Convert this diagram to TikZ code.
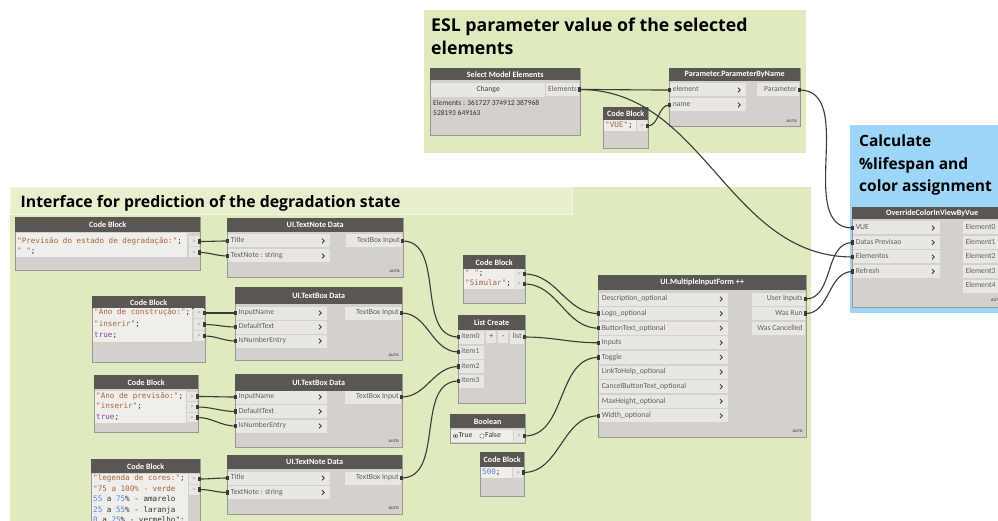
\documentclass[tikz,border=0pt]{standalone}
\usepackage{fontspec}
\setmainfont{Open Sans}
\newfontfamily\codefont{DejaVu Sans Mono}
\newfontfamily\uifont{Carlito}
\usetikzlibrary{calc}
\definecolor{grpgreen}{RGB}{223,234,190}
\definecolor{grpblue}{RGB}{158,214,250}
\definecolor{headgray}{RGB}{90,86,84}
\definecolor{bodygray}{RGB}{212,208,204}
\definecolor{rowgray}{RGB}{233,231,228}
\definecolor{coderow}{RGB}{240,238,235}
\definecolor{wiregray}{RGB}{58,58,56}
\definecolor{strbrown}{RGB}{168,98,62}
\definecolor{kwpurple}{RGB}{125,70,160}
\definecolor{numblue}{RGB}{70,140,215}
\definecolor{porttext}{RGB}{95,95,95}
\tikzset{
  nbody/.style={fill=bodygray, draw=black!40, line width=0.7pt, inner sep=0pt, anchor=north west},
  nhead/.style={fill=headgray, draw=none, inner sep=0pt, anchor=north west, text=white, font=\uifont\bfseries\fontsize{8.1}{9}\selectfont},
  prow/.style={fill=rowgray, draw=none, inner sep=0pt, anchor=north west},
  plabel/.style={inner sep=0pt, text=porttext, font=\uifont\fontsize{7.7}{8}\selectfont, text height=5.3pt, text depth=1.6pt},
  code/.style={inner sep=0pt, anchor=west, text=black!80, font=\codefont\fontsize{7.6}{8}\selectfont, text height=5.3pt, text depth=1.5pt},
  chev/.style={draw=black!75, line width=0.9pt},
  autolbl/.style={inner sep=0pt, anchor=east, text=black!65, font=\bfseries\fontsize{3.6}{4}\selectfont},
  gtitle/.style={inner sep=0pt, anchor=base west, text=black, font=\bfseries},
  infotext/.style={inner sep=0pt, anchor=base west, text=black!80, font=\uifont\fontsize{7.5}{8}\selectfont},
  wire/.style={draw=wiregray, line width=1.1pt, out=0, in=180},
}
\newcommand\dnode[7]{%
  \node[nbody, minimum width=#4pt, minimum height=#5pt] (#1) at (#2,#3) {};
  \node[nhead, minimum width=#4pt, minimum height=#6pt] (#1h) at (#2,#3) {#7};
}
\newcommand\inport[5]{%
  \node[prow, minimum width=#4pt, minimum height=13pt, anchor=west] (#1) at (#2,#3) {};
  \node[plabel, anchor=west] at ([xshift=3pt]#1.west) {#5};
  \draw[chev] ([xshift=-8pt,yshift=2.3pt]#1.east) -- ++(2.3,2.3) -- ++(-2.3,2.3);
}
\newcommand\inportnc[5]{%
  \node[prow, minimum width=#4pt, minimum height=13pt, anchor=west] (#1) at (#2,#3) {};
  \node[plabel, anchor=west] at ([xshift=2.5pt]#1.west) {#5};
}
\newcommand\outport[5]{%
  \node[prow, minimum width=#4pt, minimum height=13pt, anchor=east] (#1) at (#2,#3) {};
  \node[plabel, anchor=east] at ([xshift=-2.5pt]#1.east) {#5};
}
\newcommand\outportL[5]{%
  \node[prow, minimum width=#4pt, minimum height=13pt, anchor=west] (#1) at (#2,#3) {};
  \node[plabel, anchor=west] at ([xshift=2.5pt]#1.west) {#5};
}
\newcommand\cport[4]{%
  \node[prow, minimum width=10pt, minimum height=#4pt, anchor=east] (#1) at (#2,#3) {};
  \node[plabel, anchor=center, text=black!50, font=\fontsize{5.5}{6}\selectfont] at (#1.center) {>};
}
\newcommand\wire[2]{%
  \draw[wire] (#1.east) to (#2.west);
  \fill[wiregray] ($(#1.east)+(-1.2,-2.2)$) rectangle ++(2.4,4.4);
  \fill[wiregray] ($(#2.west)+(-1.2,-2.2)$) rectangle ++(2.4,4.4);
}
\newcommand\sq[1]{\textcolor{strbrown}{#1}}
\newcommand\nb[1]{\textcolor{numblue}{#1}}
\begin{document}
\begin{tikzpicture}[x=1pt,y=-1pt]
\useasboundingbox (0,0) rectangle (998,521);
\fill[white] (0,0) rectangle (998,521);
% ---------- groups
\fill[grpgreen] (424,10) rectangle (806,153);
\fill[grpblue] (850,125) rectangle (1002,313);
\fill[grpgreen] (10,187) rectangle (811,525);
\draw[white!55!grpgreen, fill=white!25!grpgreen, line width=0.6pt] (10,187) rectangle (572,214);
% ---------- group titles
\node[gtitle, font=\bfseries\fontsize{17.7}{22}\selectfont] (t1a) at (431,31.7) {ESL parameter value of the selected};
\node[gtitle, font=\bfseries\fontsize{17.7}{22}\selectfont] (t1b) at (431,55) {elements};
\node[gtitle, font=\bfseries\fontsize{15.5}{20}\selectfont] (t2a) at (859,147) {Calculate};
\node[gtitle, font=\bfseries\fontsize{15.5}{20}\selectfont] (t2b) at (859,169.5) {\%lifespan and};
\node[gtitle, font=\bfseries\fontsize{15.5}{20}\selectfont] (t2c) at (859,192) {color assignment};
\node[gtitle, font=\bfseries\fontsize{15.8}{18}\selectfont] (t3) at (20.5,207.5) {Interface for prediction of the degradation state};
% ---------- Select Model Elements
\dnode{sme}{430}{68}{150}{67}{12}{Select Model Elements}
\node[prow, minimum width=114pt, minimum height=14pt] (smechg) at (431,82.5) {};
\node[plabel, anchor=center, text=black!75] at (smechg.center) {Change};
\outport{smeout}{579.6}{89.5}{33}{Elements}
\node[infotext] (smei1) at (433,106) {Elements : 361727 374912 387968};
\node[infotext] (smei2) at (433,116) {528193 649163};
% ---------- Parameter.ParameterByName
\dnode{pbn}{669}{68}{131}{58}{13}{Parameter.ParameterByName}
\inport{pbnel}{669.6}{90}{76}{element}
\inport{pbnnm}{669.6}{105}{76}{name}
\outport{pbnout}{799.4}{90}{42}{Parameter}
\node[autolbl] at (797,121) {AUTO};
% ---------- Code Block VUE
\dnode{cbv}{603}{107}{45}{41}{13}{Code Block}
\fill[coderow] (603.6,120.5) rectangle (636,131.5);
\node[code] at (605,126) {\sq{"VUE"};};
\cport{cbvp}{647.4}{126}{11}
% ---------- OverrideColorInViewByVue
\dnode{ocv}{852}{207}{160}{100}{12}{OverrideColorInViewByVue}
\inport{ocv1}{852.6}{228}{87}{VUE}
\inport{ocv2}{852.6}{242.5}{87}{Datas Previsao}
\inport{ocv3}{852.6}{257}{87}{Elementos}
\inport{ocv4}{852.6}{271.5}{87}{Refresh}
\outportL{ocvo0}{963}{228}{45}{Element0}
\outportL{ocvo1}{963}{242.5}{45}{Element1}
\outportL{ocvo2}{963}{257}{45}{Element2}
\outportL{ocvo3}{963}{271.5}{45}{Element3}
\outportL{ocvo4}{963}{286}{45}{Element4}
\node[autolbl, anchor=west] at (991,300) {AUTO};
% ---------- Code Block 1
\dnode{cb1}{15}{217}{185}{53}{15}{Code Block}
\fill[coderow] (15.6,233) rectangle (187,257.5);
\node[code] at (17,241.5) {\sq{"Previsão do estado de degradação:"};};
\node[code] at (17,252) {\sq{" "};};
\cport{cb1a}{199.4}{241.5}{10}
\cport{cb1b}{199.4}{252.5}{10}
% ---------- UI.TextNote Data 1
\dnode{tn1}{227}{218}{176}{59}{14}{UI.TextNote Data}
\inport{tn1a}{227.6}{241}{102}{Title}
\inport{tn1b}{227.6}{256}{102}{TextNote : string}
\outport{tn1o}{402.4}{241}{56}{TextBox Input}
\node[autolbl] at (400,271) {AUTO};
% ---------- Code Block 2
\dnode{cb2}{92}{296}{113}{66}{13}{Code Block}
\fill[coderow] (92.6,308) rectangle (192,342);
\node[code] at (94,313) {\sq{"Ano de construção:"};};
\node[code] at (94,324.5) {\sq{"inserir"};};
\node[code] at (94,336) {\textcolor{kwpurple}{true};};
\cport{cb2a}{204.4}{313}{10.5}
\cport{cb2b}{204.4}{324.5}{10.5}
\cport{cb2c}{204.4}{336}{10.5}
% ---------- UI.TextBox Data 2
\dnode{tb2}{235}{287}{167}{73}{17}{UI.TextBox Data}
\inport{tb2a}{235.6}{313}{91}{InputName}
\inport{tb2b}{235.6}{327}{91}{DefaultText}
\inport{tb2c}{235.6}{341}{91}{IsNumberEntry}
\outport{tb2o}{401.4}{313}{56}{TextBox Input}
\node[autolbl] at (399,355) {AUTO};
% ---------- Code Block 3
\dnode{cb3}{94}{375}{104}{57}{14}{Code Block}
\fill[coderow] (94.6,391) rectangle (186,423);
\node[code] at (96,396.5) {\sq{"Ano de previsão:"};};
\node[code] at (96,407) {\sq{"inserir"};};
\node[code] at (96,417.5) {\textcolor{kwpurple}{true};};
\cport{cb3a}{197.4}{396.5}{9.8}
\cport{cb3b}{197.4}{407}{9.8}
\cport{cb3c}{197.4}{417.5}{9.8}
% ---------- UI.TextBox Data 3
\dnode{tb3}{235}{374}{167}{73}{17}{UI.TextBox Data}
\inport{tb3a}{235.6}{397}{91}{InputName}
\inport{tb3b}{235.6}{411.5}{91}{DefaultText}
\inport{tb3c}{235.6}{426}{91}{IsNumberEntry}
\outport{tb3o}{401.4}{397}{56}{TextBox Input}
\node[autolbl] at (399,441) {AUTO};
% ---------- Code Block 4
\dnode{cb4}{91}{459}{109}{70}{14}{Code Block}
\fill[coderow] (91.6,474) rectangle (188,525);
\node[code] at (93,479) {\sq{"legenda de cores:"};};
\node[code] at (93,489.5) {\sq{"75 a 100\% - verde}};
\node[code] at (93,500) {\nb{55} a \nb{75}\% - amarelo};
\node[code] at (93,510.5) {\nb{25} a \nb{55}\% - laranja};
\node[code] at (93,521) {\nb{0} a \nb{25}\% - vermelho";};
\cport{cb4a}{199.4}{479}{10}
\cport{cb4b}{199.4}{489.5}{10}
% ---------- UI.TextNote Data 4
\dnode{tn4}{227}{455}{175}{59}{14}{UI.TextNote Data}
\inport{tn4a}{227.6}{478}{102}{Title}
\inport{tn4b}{227.6}{492.5}{102}{TextNote : string}
\outport{tn4o}{401.4}{478}{56}{TextBox Input}
\node[autolbl] at (399,508) {AUTO};
% ---------- Code Block " " / "Simular"
\dnode{cbs}{463}{255}{62}{48}{14}{Code Block}
\fill[coderow] (463.6,269.5) rectangle (514,289);
\node[code] at (465,274) {\sq{" "};};
\node[code] at (465,284) {\sq{"Simular"};};
\cport{cbsa}{524.4}{274}{9.5}
\cport{cbsb}{524.4}{284}{9.5}
% ---------- List Create
\dnode{lc}{458}{315}{67}{88}{15}{List Create}
\inportnc{lc0}{458.6}{337}{25}{item0}
\inportnc{lc1}{458.6}{352}{25}{item1}
\inportnc{lc2}{458.6}{366.5}{25}{item2}
\inportnc{lc3}{458.6}{381}{25}{item3}
\node[prow, minimum width=10pt, minimum height=12pt, anchor=west] (lcplus) at (486,337) {};
\node[plabel, anchor=center, text=black!70] at (lcplus.center) {+};
\node[prow, minimum width=10pt, minimum height=12pt, anchor=west] (lcminus) at (498,337) {};
\node[plabel, anchor=center, text=black!70] at (lcminus.center) {-};
\outport{lco}{524.4}{337}{14}{list}
% ---------- Boolean
\dnode{bool}{450}{414}{75}{29}{14}{Boolean}
\fill[coderow] (450.6,429.5) rectangle (513,442.4);
\draw[black!60, fill=white, line width=0.5pt] (455.5,436) circle (2.2pt);
\fill[black!80] (455.5,436) circle (1.1pt);
\node[plabel, anchor=west, text=black!80] at (458.5,436) {True};
\draw[black!50, fill=white, line width=0.5pt] (482,436) circle (2.2pt);
\node[plabel, anchor=west, text=black!80] at (485,436) {False};
\cport{boolp}{524.4}{436}{12.8}
% ---------- Code Block 500
\dnode{cb5}{480}{452}{44}{44}{15}{Code Block}
\fill[coderow] (480.6,467) rectangle (512,478);
\node[code] at (482,472.5) {\nb{500};};
\cport{cb5p}{523.4}{472.5}{11}
% ---------- UI.MultipleInputForm ++
\dnode{mif}{598}{275}{208}{162}{15}{UI.MultipleInputForm ++}
\inport{mif1}{598.6}{299}{129}{Description\_optional}
\inport{mif2}{598.6}{313.6}{129}{Logo\_optional}
\inport{mif3}{598.6}{328.2}{129}{ButtonText\_optional}
\inport{mif4}{598.6}{342.8}{129}{Inputs}
\inport{mif5}{598.6}{357.4}{129}{Toggle}
\inport{mif6}{598.6}{372}{129}{LinkToHelp\_optional}
\inport{mif7}{598.6}{386.6}{129}{CancelButtonText\_optional}
\inport{mif8}{598.6}{401.2}{129}{MaxHeight\_optional}
\inport{mif9}{598.6}{415.8}{129}{Width\_optional}
\outport{mifo1}{805.4}{299}{53}{User Inputs}
\outport{mifo2}{805.4}{313.6}{53}{Was Run}
\outport{mifo3}{805.4}{328.2}{53}{Was Cancelled}
\node[autolbl] at (803,431) {AUTO};
% ---------- wires
\wire{smeout}{pbnel}
\wire{smeout}{ocv3}
\wire{cbvp}{pbnnm}
\wire{pbnout}{ocv1}
\wire{mifo1}{ocv2}
\wire{mifo2}{ocv4}
\wire{cb1a}{tn1a}
\wire{cb1b}{tn1b}
\wire{tn1o}{lc0}
\wire{cb2a}{tb2a}
\wire{cb2b}{tb2b}
\wire{cb2c}{tb2c}
\wire{tb2o}{lc1}
\wire{cb3a}{tb3a}
\wire{cb3b}{tb3b}
\wire{cb3c}{tb3c}
\wire{tb3o}{lc2}
\wire{cb4a}{tn4a}
\wire{cb4b}{tn4b}
\wire{tn4o}{lc3}
\wire{cbsa}{mif2}
\wire{cbsb}{mif3}
\wire{lco}{mif4}
\wire{boolp}{mif5}
\wire{cb5p}{mif9}
\end{tikzpicture}
\end{document}
